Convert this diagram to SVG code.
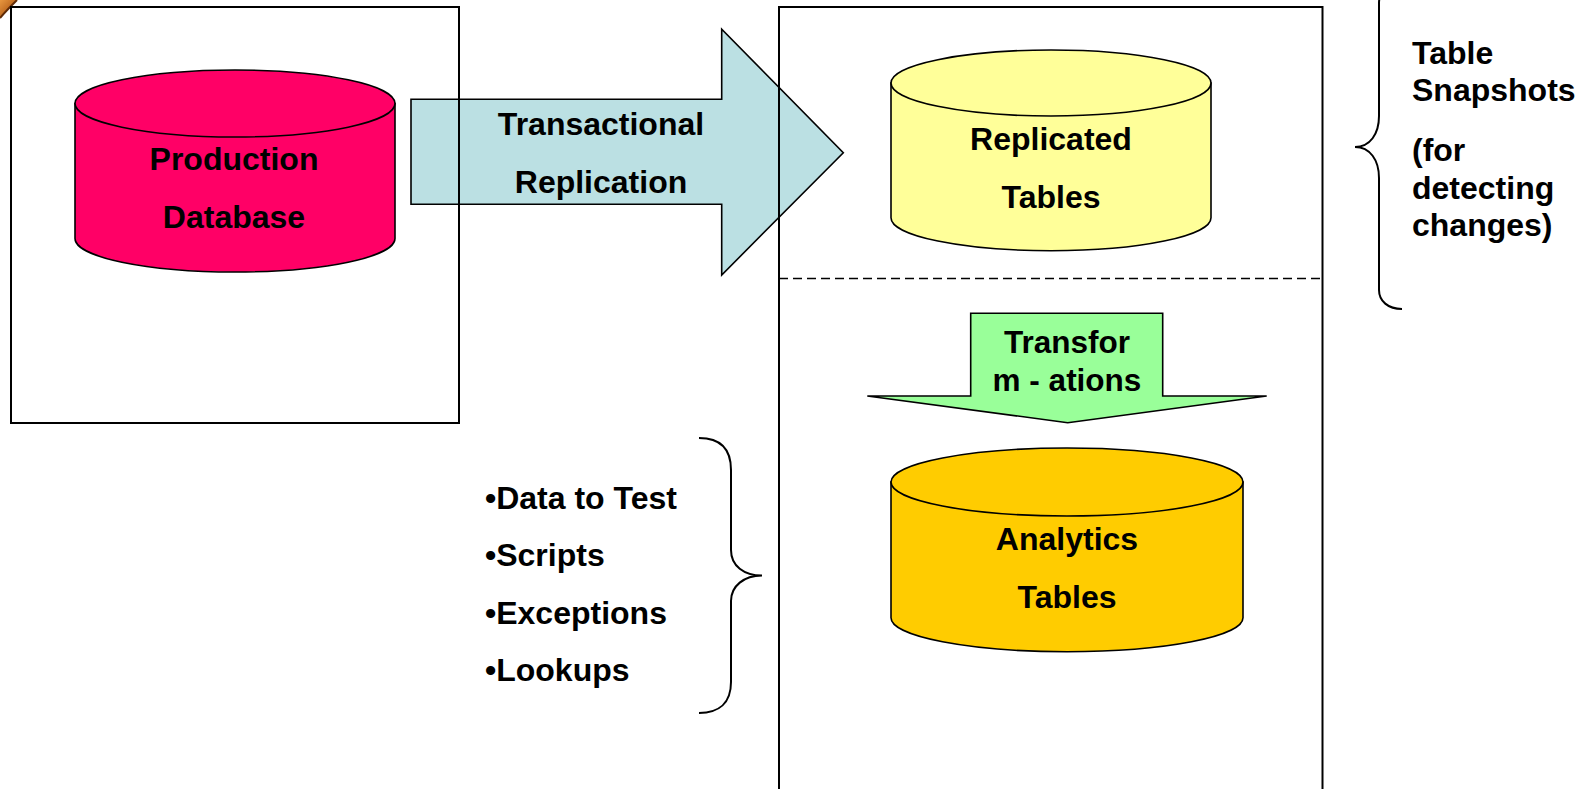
<svg xmlns="http://www.w3.org/2000/svg" width="1589" height="789" viewBox="0 0 1589 789">
<style>
.t{font-family:"Liberation Sans",Arial,sans-serif;font-weight:bold;font-size:32px;fill:#000}
.c{text-anchor:middle}
.ln{fill:none;stroke:#000;stroke-width:2}
.sh{stroke:#000;stroke-width:1.6}
</style>
<defs>
<linearGradient id="brown" x1="0" y1="0" x2="1" y2="1">
<stop offset="0" stop-color="#E8973F"/>
<stop offset="0.6" stop-color="#B8621B"/>
<stop offset="1" stop-color="#6E3309"/>
</linearGradient>
</defs>
<rect width="1589" height="789" fill="#fff"/>
<g id="corner-deco">
<path d="M0,0 L17,0 C11,6 5,12 0,18 Z" fill="url(#brown)"/>
<path d="M17,0 C11,6 5,12 0,18" fill="none" stroke="#5E2A06" stroke-width="2"/>
</g>
<g id="connectors">
<polygon id="transactional-arrow" class="sh" fill="#BBE0E3" points="411,99.3 721.7,99.3 721.7,29.3 843.3,152.7 721.7,275 721.7,204.3 411,204.3"/>
<text class="t c" x="601" y="135">Transactional</text>
<text class="t c" x="601" y="192.7">Replication</text>
<polygon id="transform-arrow" class="sh" fill="#99FF99" points="970.7,313.3 1162.7,313.3 1162.7,396 1266.7,396 1067.7,422.7 867.3,396 970.7,396"/>
<text class="t c" x="1067" y="353" style="font-size:31.5px">Transfor</text>
<text class="t c" x="1067" y="391" style="font-size:31.5px">m - ations</text>
</g>
<g id="production-box">
<rect class="ln" x="11" y="7" width="448" height="416"/>
</g>
<g id="analytics-box">
<path class="ln" d="M779,789 L779,7 L1322.5,7 L1322.5,789"/>
<line x1="779" y1="278.5" x2="1322.5" y2="278.5" stroke="#000" stroke-width="1.6" stroke-dasharray="9,5"/>
</g>
<g id="production-db">
<path class="sh" fill="#FF0066" d="M75,103.5 L75,238.5 A160,33.5 0 0 0 395,238.5 L395,103.5 Z"/>
<ellipse class="sh" fill="#FF0066" cx="235" cy="103.5" rx="160" ry="33.5"/>
<text class="t c" x="234" y="170">Production</text>
<text class="t c" x="234" y="228">Database</text>
</g>
<g id="replicated-tables">
<path class="sh" fill="#FFFF99" d="M891,83 L891,217.7 A160,33 0 0 0 1211,217.7 L1211,83 Z"/>
<ellipse class="sh" fill="#FFFF99" cx="1051" cy="83" rx="160" ry="33"/>
<text class="t c" x="1051" y="150">Replicated</text>
<text class="t c" x="1051" y="207.5">Tables</text>
</g>
<g id="analytics-tables">
<path class="sh" fill="#FFCC00" d="M891,482 L891,617.7 A176,34 0 0 0 1243,617.7 L1243,482 Z"/>
<ellipse class="sh" fill="#FFCC00" cx="1067" cy="482" rx="176" ry="34"/>
<text class="t c" x="1067" y="550">Analytics</text>
<text class="t c" x="1067" y="607.5">Tables</text>
</g>
<g id="snapshots-note">
<path class="ln" d="M1401.7,-17.3 C1388,-17.3 1379,-8 1379,3 L1379,116 C1379,134 1370,147 1355,147 C1370,147 1379,160 1379,178 L1379,290 C1379,301 1388,309 1402,309"/>
<text class="t" x="1412" y="64">Table</text>
<text class="t" x="1412" y="100.5">Snapshots</text>
<text class="t" x="1412" y="161">(for</text>
<text class="t" x="1412" y="199">detecting</text>
<text class="t" x="1412" y="236">changes)</text>
</g>
<g id="inputs-note">
<path class="ln" d="M699,438 C719,438 731,448 731,470 L731,550 C731,566 744,575.5 762,575.5 C744,575.5 731,586 731,601 L731,682 C731,703 719,713 699,713"/>
<text class="t" x="485" y="509">•Data to Test</text>
<text class="t" x="485" y="566">•Scripts</text>
<text class="t" x="485" y="623.5">•Exceptions</text>
<text class="t" x="485" y="681">•Lookups</text>
</g>
</svg>
